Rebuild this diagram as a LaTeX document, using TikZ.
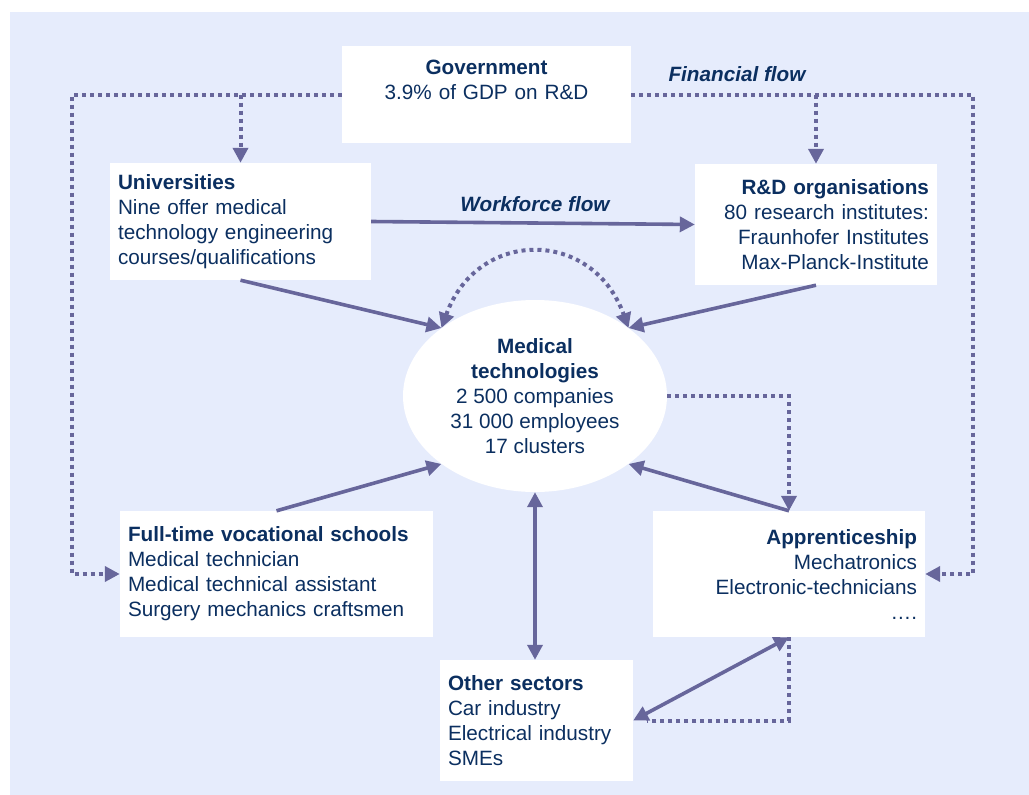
\documentclass[tikz,border=0pt]{standalone}
\usepackage{fontspec}
\setmainfont{Liberation Sans}
\usetikzlibrary{arrows.meta,shapes.geometric}
\definecolor{bgblue}{HTML}{E6ECFC}
\definecolor{flowpurple}{HTML}{67669B}
\definecolor{textnavy}{HTML}{0B2F60}
\tikzset{
	flowtip/.tip={Triangle[length=15pt,width=15pt]},
	box/.style={fill=white, inner xsep=8pt, inner ysep=0pt},
	flowline/.style={draw=flowpurple, line width=3.6pt, -flowtip},
	moneyline/.style={draw=flowpurple, line width=4pt, dash pattern=on 4pt off 4pt, -flowtip},
	flowlabel/.style={font=\fontsize{20.7}{25}\selectfont\bfseries\itshape}
}

\begin{document}
\begin{tikzpicture}[x=1pt, y=-1pt, every node/.style={font=\fontsize{20.7}{25}\selectfont, text=textnavy}]
	\useasboundingbox (0,0) rectangle (1029,795);
	\fill[bgblue] (10,12) rectangle (1029,795);

	\node[box, align=center, text width=273pt, minimum height=97pt] (gov) at (486.5,94.5) {\textbf{Government}\\3.9\% of GDP on R\&D\\[4pt]~};
	\node[box, align=left, text width=245pt, minimum height=117pt] (uni) at (240.5,221.5) {\textbf{Universities}\\Nine offer medical\\technology engineering\\courses/qualifications};
	\node[box, align=right, text width=226pt, minimum height=121pt] (rd) at (816,224.5) {\textbf{R\&D organisations}\\80 research institutes:\\Fraunhofer Institutes\\Max-Planck-Institute};
	\node[ellipse, fill=white, minimum width=264pt, minimum height=192pt, inner sep=0pt, align=center] (med) at (535,396) {\textbf{Medical}\\\textbf{technologies}\\2 500 companies\\31 000 employees\\17 clusters};
	\node[box, align=left, text width=297pt, minimum height=126pt] (fts) at (276.5,574) {\textbf{Full-time vocational schools}\\Medical technician\\Medical technical assistant\\Surgery mechanics craftsmen};
	\node[box, align=right, text width=256pt, minimum height=126pt] (app) at (789,574) {\textbf{Apprenticeship}\\Mechatronics\\Electronic-technicians\\….};
	\node[box, align=left, text width=177pt, minimum height=121pt] (oth) at (536.5,720.5) {\textbf{Other sectors}\\Car industry\\Electrical industry\\SMEs};

	\node[flowlabel] (finlbl) at (737,74) {Financial flow};
	\node[flowlabel] (worklbl) at (535,204) {Workforce flow};

	\coordinate (finL) at (72,94.5);
	\coordinate (finR) at (973,94.5);
	\draw[moneyline] (gov.west) -- (finL) |- (fts.west);
	\draw[moneyline] (gov.west -| uni.north) -- (uni.north);
	\draw[moneyline] (gov.east) -- (finR) |- (app.east);
	\draw[moneyline] (gov.east -| rd.north) -- (rd.north);

	\draw[flowline] (uni.east) -- (rd.west);
	\draw[flowline] (uni.south) -- (med.144);
	\draw[flowline] (rd.south) -- (med.36);
	\draw[flowline] (fts.north) -- (med.216);
	\draw[flowline] (app.north) -- (med.324);
	\draw[moneyline, flowtip-flowtip] (med.144) .. controls +(36,-100) and +(-36,-100) .. (med.36);
	\draw[moneyline] (med.east) -| (app.north);

	\draw[flowline, flowtip-flowtip] (med.south) -- (med.south |- oth.north);
	\draw[flowline, flowtip-flowtip] (oth.east) -- (app.south);
	\draw[moneyline, -, shorten >=14pt] (app.south) |- (oth.east);
\end{tikzpicture}
\end{document}
